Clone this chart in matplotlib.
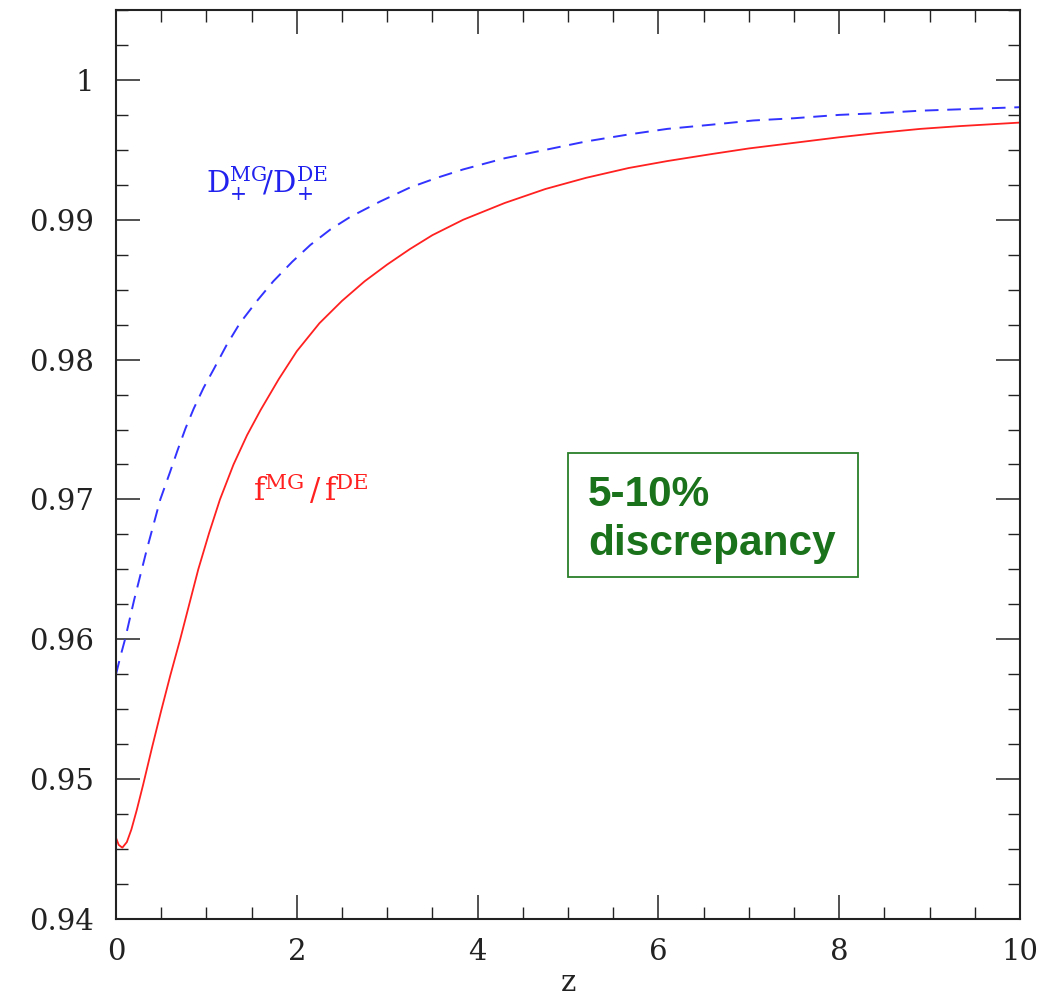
import matplotlib
matplotlib.use("Agg")
import matplotlib.pyplot as plt
from matplotlib.ticker import MultipleLocator, FixedLocator
from matplotlib.patches import Rectangle

# growth-rate ratio f^MG / f^DE (red, solid)
z_f = [0.0, 0.03, 0.07, 0.12, 0.17, 0.23, 0.30, 0.40, 0.50, 0.60, 0.71, 0.81,
       0.91, 1.03, 1.15, 1.30, 1.45, 1.60, 1.80, 2.0, 2.25, 2.5, 2.75, 3.0,
       3.25, 3.5, 3.84, 4.3, 4.75, 5.2, 5.67, 6.1, 6.59, 7.0, 7.5, 8.0, 8.42,
       8.9, 9.34, 10.0]
f_ratio = [0.9458, 0.9453, 0.9451, 0.9455, 0.9464, 0.9478, 0.9496, 0.9523,
           0.9549, 0.9574, 0.9600, 0.9625, 0.9650, 0.9676, 0.9700, 0.9725,
           0.9746, 0.9764, 0.9786, 0.9806, 0.9826, 0.9842, 0.9856, 0.9868,
           0.9879, 0.9889, 0.9900, 0.9912, 0.9922, 0.9930, 0.9937, 0.9942,
           0.9947, 0.9951, 0.9955, 0.9959, 0.9962, 0.9965, 0.9967, 0.99695]

# growth-factor ratio D+^MG / D+^DE (blue, dashed)
z_d = [0.0, 0.05, 0.10, 0.20, 0.34, 0.49, 0.60, 0.68, 0.77, 0.86, 0.97, 1.08,
       1.22, 1.37, 1.56, 1.74, 1.95, 2.15, 2.37, 2.59, 2.92, 3.25, 3.55, 3.84,
       4.3, 4.75, 5.2, 5.67, 6.1, 6.59, 7.05, 7.5, 8.0, 8.42, 8.9, 9.34, 10.0]
d_ratio = [0.9575, 0.9588, 0.9600, 0.9628, 0.9664, 0.9700, 0.9720, 0.9735,
           0.9751, 0.9765, 0.9780, 0.9793, 0.9810, 0.9826, 0.9842, 0.9856,
           0.9870, 0.9882, 0.9893, 0.9902, 0.9913, 0.9923, 0.9930, 0.9936,
           0.9944, 0.9950, 0.9956, 0.9961, 0.9965, 0.9968, 0.9971, 0.99726,
           0.9975, 0.99762, 0.9978, 0.9979, 0.99805]

x_ticks = [0, 2, 4, 6, 8, 10]
y_ticks = [0.94, 0.95, 0.96, 0.97, 0.98, 0.99, 1.0]
y_tick_labels = ["0.94", "0.95", "0.96", "0.97", "0.98", "0.99", "1"]

plt.rcParams['font.family'] = 'serif'
plt.rcParams['font.serif'] = ['DejaVu Serif']
plt.rcParams['mathtext.fontset'] = 'dejavuserif'

fig = plt.figure(figsize=(10.55, 10.02), dpi=100)
ax = fig.add_axes([116/1055, 1 - 919/1002, 904/1055, 909/1002])

ax.plot(z_d, d_ratio, color='#3333ff', lw=1.4, dashes=(7.0, 4.5))
ax.plot(z_f, f_ratio, color='#ff2020', lw=1.3)

ax.set_xlim(0, 10)
ax.set_ylim(0.94, 1.005)
ax.xaxis.set_major_locator(FixedLocator(x_ticks))
ax.xaxis.set_minor_locator(MultipleLocator(0.5))
ax.yaxis.set_major_locator(FixedLocator(y_ticks))
ax.yaxis.set_minor_locator(MultipleLocator(0.0025))
ax.set_yticklabels(y_tick_labels)
ax.set_xticklabels([str(t) for t in x_ticks])

ax.tick_params(which='both', direction='in', top=True, right=True,
               color='#222222')
ax.tick_params(which='major', length=17, width=1.1, pad=14,
               labelsize=21, labelcolor='#222222')
ax.tick_params(axis='y', which='major', pad=16)
ax.tick_params(which='minor', length=8.5, width=1.0)
for s in ax.spines.values():
    s.set_linewidth(1.5)
    s.set_color('#222222')

ax.set_xlabel('z', fontsize=21, labelpad=2, color='#222222')

ax.text(1.0, 0.9919, r'$\mathrm{D}_{+}^{\mathrm{MG}}\!/\mathrm{D}_{+}^{\mathrm{DE}}$',
        color='#2222ee', fontsize=21, va='baseline', ha='left')
ax.text(1.52, 0.9699, r'$\mathrm{f}^{\mathrm{MG}}\,/\,\mathrm{f}^{\mathrm{DE}}$',
        color='#ff2020', fontsize=22, va='baseline', ha='left')

box_x0 = (568 - 116) / 904
box_x1 = (858 - 116) / 904
box_y0 = (919 - 577) / 909
box_y1 = (919 - 453) / 909
ax.add_patch(Rectangle((box_x0, box_y0), box_x1 - box_x0, box_y1 - box_y0,
                       transform=ax.transAxes, fill=False,
                       edgecolor='#2a7f2a', lw=1.3))
tx = (588 - 116) / 904
ax.text(tx, (919 - 506) / 909, '5-10%', transform=ax.transAxes,
        color='#1a721a', fontsize=30.5, fontweight='bold',
        family='Liberation Sans', va='baseline', ha='left')
ax.text(tx, (919 - 555) / 909, 'discrepancy', transform=ax.transAxes,
        color='#1a721a', fontsize=30.5, fontweight='bold',
        family='Liberation Sans', va='baseline', ha='left')

fig.savefig('out.png', dpi=100)
